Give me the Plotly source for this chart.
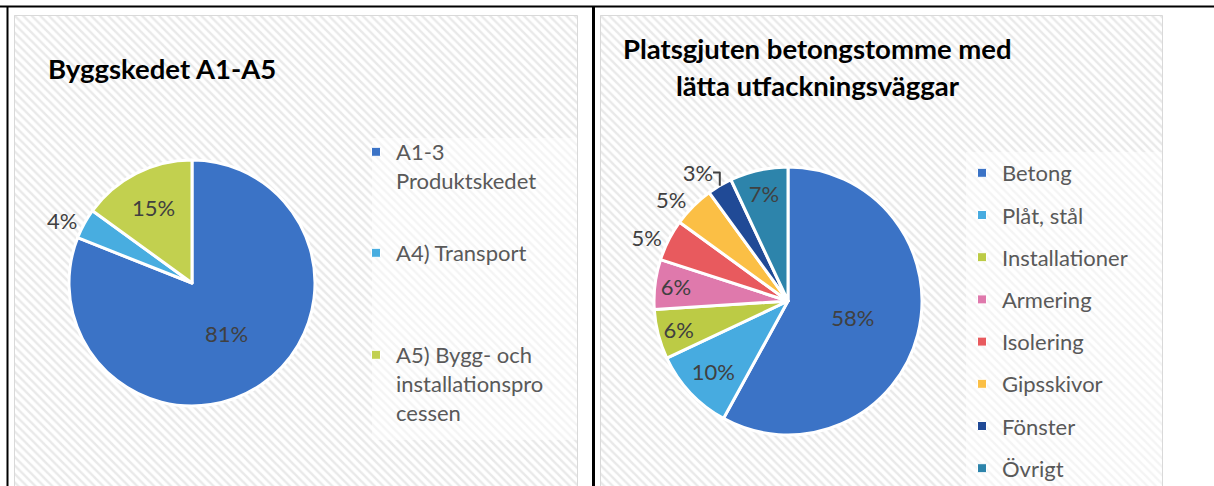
import plotly.graph_objects as go

W, H = 1214, 486
FONT = "Lato"

# left chart: construction stage
stage_labels = ["A1-3 Produktskedet", "A4) Transport", "A5) Bygg- och installationsprocessen"]
stage_legend = ["A1-3<br>Produktskedet", "A4) Transport", "A5) Bygg- och<br>installationspro<br>cessen"]
stage_values = [81, 4, 15]
stage_colors = ["#3b73c6", "#48ade0", "#c2d04f"]
stage_textpos = ["inside", "outside", "inside"]

# right chart: material breakdown
mat_labels = ["Betong", "Plåt, stål", "Installationer", "Armering",
              "Isolering", "Gipsskivor", "Fönster", "Övrigt"]
mat_values = [58, 10, 6, 6, 5, 5, 3, 7]
mat_colors = ["#3b73c6", "#47abe0", "#bccb45", "#df79ac",
              "#e85a5e", "#fbbf45", "#204a96", "#2d84ab"]
mat_textpos = ["inside", "inside", "inside", "inside",
               "outside", "outside", "outside", "inside"]


def px(x):
    return x / W


def py(y):
    return 1 - y / H


fig = go.Figure()

# hatched chart backgrounds (one bar filling each panel)
for ax, (x0, x1) in (("", (14, 578)), ("2", (600, 1163))):
    fig.add_trace(go.Bar(
        x=[0.5], y=[1], width=[1],
        marker=dict(color="white", line=dict(width=0),
                    pattern=dict(shape="\\", size=6, solidity=0.4,
                                 fgcolor="#d3d3d3", bgcolor="white",
                                 fillmode="overlay")),
        xaxis="x" + ax, yaxis="y" + ax, showlegend=False, hoverinfo="skip",
    ))
    fig.update_layout(**{
        "xaxis" + ax: dict(domain=[px(x0), px(x1)], range=[0, 1], visible=False, fixedrange=True),
        "yaxis" + ax: dict(domain=[0, py(15)], range=[0, 1], visible=False, fixedrange=True),
    })


def pie_domain(cx, cy, r):
    return dict(x=[px(cx - r), px(cx + r)], y=[py(cy + r), py(cy - r)])


pct_font = dict(family=FONT, size=22, color="#404040")

fig.add_trace(go.Pie(
    labels=stage_labels, values=stage_values, sort=False,
    direction="clockwise", rotation=0,
    domain=pie_domain(192, 283, 123),
    marker=dict(colors=stage_colors, line=dict(color="white", width=3)),
    textinfo="percent", texttemplate="%{percent:.0%}",
    textposition=stage_textpos, insidetextorientation="horizontal",
    textfont=pct_font, showlegend=False, hoverinfo="label+percent",
))

fig.add_trace(go.Pie(
    labels=mat_labels, values=mat_values, sort=False,
    direction="clockwise", rotation=0,
    domain=pie_domain(788, 301, 134),
    marker=dict(colors=mat_colors, line=dict(color="white", width=3)),
    textinfo="percent", texttemplate="%{percent:.0%}",
    textposition=mat_textpos, insidetextorientation="horizontal",
    textfont=pct_font, showlegend=False, hoverinfo="label+percent",
))

# legend entries
legend_font = dict(family=FONT, size=22, color="#595959")
for i, (name, col) in enumerate(zip(mat_labels, mat_colors)):
    fig.add_trace(go.Scatter(
        x=[None], y=[None], mode="markers", name=name,
        marker=dict(symbol="square", size=9, color=col, line=dict(color="white", width=1)),
        legend="legend", legendgroup=f"m{i}",
    ))

stage_legend_y = [131, 232, 334]
for i, (name, col) in enumerate(zip(stage_legend, stage_colors)):
    key = f"legend{i + 2}"
    fig.add_trace(go.Scatter(
        x=[None], y=[None], mode="markers", name=name,
        marker=dict(symbol="square", size=9, color=col, line=dict(color="white", width=1)),
        legend=key,
    ))
    fig.update_layout(**{key: dict(
        x=px(356), y=py(stage_legend_y[i]), xanchor="left", yanchor="top",
        bgcolor="rgba(0,0,0,0)", font=legend_font, valign="top",
    )})

fig.update_layout(
    legend=dict(x=px(962), y=py(152), xanchor="left", yanchor="top",
                bgcolor="rgba(0,0,0,0)", font=legend_font, tracegroupgap=10.6),
)

shapes = [
    # lighter legend areas
    dict(type="rect", xref="paper", yref="paper", x0=px(372), x1=px(577), y0=py(440), y1=py(138),
         line=dict(width=0), fillcolor="rgba(255,255,255,0.5)", layer="above"),
    dict(type="rect", xref="paper", yref="paper", x0=px(966), x1=px(1162), y0=py(486), y1=py(152),
         line=dict(width=0), fillcolor="rgba(255,255,255,0.5)", layer="above"),
    # chart borders
    dict(type="rect", xref="paper", yref="paper", x0=px(14.5), x1=px(577.5), y0=py(490), y1=py(15.5),
         line=dict(color="#d9d9d9", width=1), layer="above"),
    dict(type="rect", xref="paper", yref="paper", x0=px(600.5), x1=px(1162.5), y0=py(490), y1=py(15.5),
         line=dict(color="#d9d9d9", width=1), layer="above"),
    # table rules
    dict(type="line", xref="paper", yref="paper", x0=0, x1=1, y0=py(6.5), y1=py(6.5),
         line=dict(color="black", width=2), layer="above"),
    dict(type="line", xref="paper", yref="paper", x0=px(7.5), x1=px(7.5), y0=0, y1=py(6),
         line=dict(color="black", width=2), layer="above"),
    dict(type="line", xref="paper", yref="paper", x0=px(593.5), x1=px(593.5), y0=0, y1=py(6),
         line=dict(color="black", width=3), layer="above"),
]

title_font = dict(family=FONT, size=27.5, color="black")
fig.update_layout(
    width=W, height=H, margin=dict(l=0, r=0, t=0, b=0, autoexpand=False),
    paper_bgcolor="white", plot_bgcolor="rgba(0,0,0,0)",
    font=dict(family=FONT, color="#595959"),
    uniformtext=dict(minsize=22, mode="show"),
    barmode="overlay", bargap=0,
    shapes=shapes,
    annotations=[
        dict(text="<b>Byggskedet A1-A5</b>", x=px(46), y=py(68), xref="paper", yref="paper",
             xanchor="left", yanchor="middle", showarrow=False, font=title_font),
        dict(text="<b>Platsgjuten betongstomme med</b>", x=px(817), y=py(48),
             xref="paper", yref="paper", xanchor="center", yanchor="middle",
             showarrow=False, font=title_font),
        dict(text="<b>lätta utfackningsväggar</b>", x=px(818), y=py(86),
             xref="paper", yref="paper", xanchor="center", yanchor="middle",
             showarrow=False, font=title_font),
    ],
)

fig.write_html("out.html", config={"displayModeBar": False},
               post_script="document.body.style.margin='0';")
